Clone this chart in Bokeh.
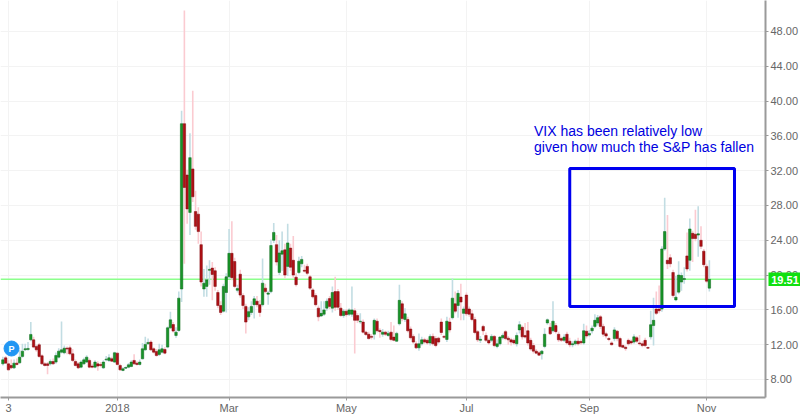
from bokeh.plotting import figure
from bokeh.layouts import row
from bokeh.models import FixedTicker, NumeralTickFormatter, Range1d, Span
from bokeh.core.properties import value
from bokeh.embed import file_html
from bokeh.resources import INLINE

# trading-day number relative to 2 Jan 2018
first_day = -41
opens = [9.8,10.49,9.8,9.61,9.34,9.88,9.92,10.65,11.41,11.45,
 12.56,12.56,11.8,11.99,10.72,9.8,9.8,9.8,10.07,10.0,
 10.57,11.14,11.07,11.6,11.64,10.95,10.07,9.8,9.42,9.8,
 10.0,10.19,9.54,9.42,9.8,9.73,9.34,10.26,10.19,10.38,
 10.0,11.03,9.61,9.04,9.3,9.42,9.5,10.19,9.88,9.73,
 10.38,11.41,12.1,12.3,11.53,11.22,10.88,11.14,11.45,11.72,
 13.94,14.32,13.06,13.63,18.4,37.4,31.5,27.2,32.2,27.3,
 27,23.5,18.4,18.7,20.55,20.8,20.5,18,16.5,15.85,
 18,19.8,22.5,21.56,18.25,20.1,17.65,16.4,15.2,15.7,
 16.6,17,16.6,16.6,18.5,17.8,18.1,24,23.5,20.3,
 22.4,22.9,21,23.1,21.7,19.76,20.3,21.3,20.55,21,
 19.8,18.3,17.65,16.2,15.3,15.5,16.2,17.3,16.2,18.1,
 18.1,16.2,15.35,15.85,15.5,15.5,15.9,15.35,14.63,14.6,
 13.44,13.2,12.95,13.2,14.7,13.64,13.2,13.44,13.06,13.44,
 12.87,12.4,14.4,16.7,14.9,14.9,13.8,12.95,12.1,11.64,
 12.1,12.56,12.5,12.2,12.95,12.7,12.75,14.6,12.95,12.6,
 14.6,15.1,16.7,16.5,17.47,15.6,17.7,16.1,15.55,14.9,
 13.5,12.5,14.1,13.06,12.5,12.5,12.95,11.8,12.1,12.8,
 13.5,12.75,12.56,12.5,12.1,13.7,14,13.06,13.6,12.5,
 11.9,11.26,11.07,10.95,11.8,14.5,14,13.6,14.2,13.2,
 12.7,12.5,13.2,12.4,12.0,12.1,12.4,12.37,12.2,13.55,
 13.1,13.6,14.1,14.5,15.2,14.1,13.25,12.7,12.2,12.7,
 13.55,12.7,11.9,11.7,12.5,12.4,12.3,12.8,12.2,12.1,
 12.5,11.67,12.9,14.2,16.1,16.1,16.1,23,21.7,22,
 20.3,17.15,18.04,19.2,19.5,22.2,21.7,24.8,24.7,24.6,24,22.75,21,18.5]
closes = [10.26,9.88,9.11,9.34,9.88,9.73,10.57,11.26,11.53,11.57,
 13.18,11.72,11.41,10.65,9.8,9.61,9.61,10.07,9.8,10.76,
 11.26,11.41,11.6,11.5,10.95,10.19,9.61,9.34,10.0,10.26,
 10.57,9.42,9.42,10.0,9.54,9.61,10.0,10.34,10.49,10.11,
 11.07,9.73,9.11,9.23,9.38,9.69,10.0,9.8,9.73,10.0,
 11.53,12.03,12.26,11.41,11.14,10.76,11.41,11.53,11.03,13.94,
 14.86,13.56,13.44,17.35,37.4,30.07,27.6,33.5,29.0,25.6,
 25,19.2,19.07,19.45,20.65,20.07,18.7,16.5,15.7,18.7,
 19.8,22.5,19.7,18.7,18.45,17.7,16.5,14.6,15.8,16.4,
 17.27,16.6,15.7,19.07,18.1,17.95,23.4,24.9,21.5,22.55,
 22.8,20,23.7,20.9,20,18.9,21.6,21.8,20.45,20.2,
 18.5,17.5,16.6,15.2,15.6,16,17,16.4,18,16.3,
 16.3,15.35,15.85,15.45,16,16,14.8,14.8,14.7,13.44,
 13.17,12.7,12.85,14.8,13.6,13.5,13.44,13.2,13.3,12.6,
 12.5,13.3,17.1,15,15.55,13.6,12.8,12.3,11.64,12.1,
 12.56,12.3,12.2,12.95,12.1,11.9,12.3,13.4,12.85,14.7,
 13.7,17.35,15.85,17.9,16.9,16.1,15.55,15.5,14.9,13.4,
 12.56,12.62,13.6,12.5,12.2,12.95,11.9,12.1,12.87,13.06,
 12.7,12.56,12.3,12.2,13.06,14.3,12.9,12.87,12.2,11.5,
 11.26,11.03,10.8,11.26,13.2,14.86,13.25,14.7,13.5,12.56,
 12.5,12.87,12.2,12.0,12.1,12.4,12.1,12.22,13.6,13,
 13.3,13.9,14.8,15.1,14.1,13.2,13,12.6,12,13.7,
 12.7,11.8,11.7,11.55,12.1,12.2,12.9,12.4,12.1,11.9,
 11.9,11.6,14.3,14.8,15.6,15.9,23,25,21.3,21.3,
 17.65,17.46,20,19.95,19.6,20.7,25.3,24.2,24.2,24.75,23.3,21.2,19.3,19.51]
highs = [10.6,10.7,10.2,10.3,10.3,10.4,11.4,12.1,12.1,12.3,
 14.6,12.9,12.0,12.2,10.9,10.0,10.0,10.3,10.4,11.1,
 11.6,14.67,11.9,11.8,11.9,11.5,10.3,10.0,10.2,10.5,
 10.8,10.4,9.8,10.2,10.1,10.0,10.2,10.7,10.9,10.6,
 11.2,11.1,9.8,9.4,9.5,9.9,10.2,10.9,10.1,10.3,
 12.2,12.9,12.7,12.5,11.7,11.5,12.1,12.0,11.7,14.1,
 15.8,14.6,14.0,18.1,38.9,50.4,32.1,36.3,41.2,29.7,
 27.8,25.0,20.7,21.1,21.7,21.5,20.9,18.3,17,19,
 20.2,25.3,26.2,22,18.9,20.6,17.9,16.7,16.3,17,
 17.6,17.6,17.1,21.9,19,18.2,24.1,26,24.6,24,
 25,23.6,25.9,23.6,24.5,20.2,22.1,22.2,21.2,21.3,
 20,18.5,17.9,16.5,17,17,17.3,17.6,18.7,19.8,
 18.4,16.8,16.1,16.1,16.2,18.7,16.2,15.6,15.6,14.9,
 13.6,13.5,13.2,15,15,13.9,13.8,13.6,13.6,14.6,
 14.2,13.5,18.9,17,16.2,15.2,14.1,13.2,12.4,13.3,
 12.9,12.8,12.7,13.2,13.3,13,12.9,15,13.1,15.2,
 15.1,19.6,18.1,18.3,19,16.4,18,16.4,16,15.2,
 13.7,13,14.3,13.4,12.7,13.2,13.1,12.6,13,13.3,
 13.7,13,12.8,12.7,13.4,14.7,14.2,14.5,14.6,12.8,
 12.2,11.5,11.3,11.4,13.9,15,14.5,17,14.5,13.5,
 12.9,13.2,13.5,12.8,12.4,12.6,12.8,12.6,14.4,14.2,
 13.7,14.2,15.5,15.4,15.4,14.4,13.5,12.9,12.4,14,
 13.7,12.9,12.1,11.9,12.7,12.6,13.2,13,13.1,12.4,
 12.8,11.8,15.9,17.4,18.1,18.8,23.3,28.9,26.9,22.4,
 20.6,19.9,21.6,20.3,20.9,24.9,26.5,25.1,27.5,27.9,25.6,23,21.3,21.7]
lows = [9.6,9.8,9.0,9.2,9.2,9.6,9.8,10.5,11.3,11.3,
 12.4,11.6,11.2,10.5,9.7,9.5,8.6,9.6,9.7,9.8,
 10.4,11.0,10.9,10.9,10.8,10.0,9.5,9.2,9.3,9.7,
 9.9,9.3,9.3,9.3,9.0,9.4,9.2,10.1,10.0,10.0,
 9.9,9.6,9.0,8.95,9.2,9.3,9.4,9.7,9.6,9.6,
 10.3,11.3,12.0,11.3,11.0,10.6,10.7,11.0,10.9,11.6,
 13.8,13.4,12.8,13.5,16.9,21.3,25.9,24.6,28.4,25.2,
 23.6,18.7,17.5,17.5,18.9,17.1,18.2,16.2,15.4,15.7,
 15.7,19.6,19.4,18.5,18,17.4,16.1,13.3,14.8,15.4,
 15,16.3,15.2,16.4,17.9,16.6,17.9,23.7,21.1,20,
 20.5,19.6,19.9,20.5,19.7,18.7,20.1,20.9,20.3,20,
 18.3,17.3,16.4,14.7,15.2,15.3,15.9,16.1,15.7,15.9,
 16,15.2,15.1,15.2,15.3,15.2,11,14.5,14.4,13.3,
 13,12.6,12.6,12.6,13.4,12.8,12.9,13,12.9,12.4,
 12.4,12.3,14.2,14.7,14.6,13.4,12.6,12.1,11.5,11.3,
 11.9,12.1,12,11.9,11.9,11.7,12.1,13.1,12.7,12.3,
 13.4,14.9,15.6,15.1,14.8,14.8,15.3,15.2,14.7,13.2,
 12.3,12.2,13.1,12.3,12,12.3,11.7,11.6,11.9,12.6,
 12.5,12,11.9,12,11.8,13.3,12.6,12.7,11.9,11.3,
 11,10.9,10.7,10.3,11.6,14.3,13.1,13.4,13.3,12.3,
 12.3,12.3,12,11.7,11.7,11.9,11.9,12,12,12.7,
 12.9,13.3,13.9,14.2,13.8,12.9,12.7,12.4,11.9,12.4,
 12.4,11.6,11.6,11.3,11.9,12,12.1,12.2,11.9,11.7,
 11.7,11.5,12.6,11.9,15.4,15.6,15.8,22.8,20.7,20.9,
 17.4,17,17.8,18.2,19,20.4,20.5,21.5,23.9,22.1,23,20.9,19.1,18.1]

price_ticks = [8, 12, 16, 20, 24, 28, 32, 36, 40, 44, 48]
date_ticks = [-39, 0, 40, 82, 125, 169, 211]
date_labels = ["3", "2018", "Mar", "May", "Jul", "Sep", "Nov"]
last_price = 19.51
note_lines = ["VIX has been relatively low", "given how much the S&P has fallen"]
box_days = (162, 221)
box_prices = (16.39, 32.25)

FONT = "Liberation Sans"
days = [first_day + i for i in range(len(opens))]
up = [c >= o for o, c in zip(opens, closes)]
body_colors = ["#189428" if u else "#b01015" for u in up]
edge_colors = ["#0d661a" if u else "#7a0b0e" for u in up]
wick_colors = ["#c2dde3" if u else "#fbcbd1" for u in up]
tops = [max(o, c) for o, c in zip(opens, closes)]
bottoms = [min(o, c) for o, c in zip(opens, closes)]

p = figure(frame_width=766, frame_height=397, output_backend="svg", toolbar_location=None,
           x_range=Range1d(-41.85, 232.1), y_range=Range1d(5.93, 51.56),
           y_axis_location="right", min_border=0, min_border_left=0,
           min_border_right=0, min_border_top=0, min_border_bottom=0,
           background_fill_color="white", outline_line_color=None,
           margin=(0, 0, 0, 0))

p.xaxis.ticker = FixedTicker(ticks=date_ticks)
p.xaxis.major_label_overrides = {d: t for d, t in zip(date_ticks, date_labels)}
p.yaxis.ticker = FixedTicker(ticks=price_ticks)
p.yaxis.formatter = NumeralTickFormatter(format="0.00")
for ax in (p.xaxis[0], p.yaxis[0]):
    ax.axis_line_color = "#9a9a9a"
    ax.axis_line_width = 2
    ax.major_tick_line_color = "#9a9a9a"
    ax.major_tick_out = 3
    ax.major_tick_in = 0
    ax.minor_tick_out = 0
    ax.minor_tick_in = 0
    ax.major_label_text_font = FONT
    ax.major_label_text_font_size = "11px"
    ax.major_label_text_color = "#666666"
    ax.major_label_standoff = 2
p.xaxis[0].major_label_standoff = 1
p.xgrid.grid_line_color = "#f3f3f3"
p.ygrid.grid_line_color = "#f3f3f3"

p.add_layout(Span(location=last_price, dimension="width", line_color="#8cff8c", line_width=1.5, level="underlay"))
p.segment(days, highs, days, lows, line_color=wick_colors, line_width=1.6)
p.vbar(days, width=0.88, top=tops, bottom=bottoms, fill_color=body_colors, line_color=edge_colors, line_width=0.5)

p.quad(left=[box_days[0]], right=[box_days[1]], bottom=[box_prices[0]], top=[box_prices[1]],
       fill_color=None, line_color="#0000f0", line_width=3)
p.text([149.2, 149.2], [36.6, 34.67], text=note_lines, text_font=value(FONT), text_font_size="14px",
       text_color="#0000e0", text_baseline="middle", text_align="left")

p.scatter([-37.9], [11.56], size=15, marker="circle", fill_color="#2196f3", line_color="#2196f3")
p.text([-37.9], [11.56], text=["P"], text_font=value(FONT), text_font_size="9px", text_font_style="bold",
       text_color="white", text_align="center", text_baseline="middle")

# last-price tag: a small figure laid over the price axis
tag = figure(frame_width=32, frame_height=14, output_backend="svg", toolbar_location=None,
             x_range=Range1d(0, 1), y_range=Range1d(0, 1),
             x_axis_location=None, y_axis_location=None, min_border=0, min_border_left=0,
             min_border_right=0, min_border_top=0, min_border_bottom=0,
             background_fill_color="#10e010", border_fill_color="#10e010", outline_line_color=None,
             margin=(272, 0, 0, -33))
tag.grid.visible = False
tag.text([0.5], [0.5], text=[f"{last_price:.2f}"], text_font=value(FONT), text_font_size="11px",
         text_font_style="bold", text_color="white", text_align="center", text_baseline="middle")

layout = row(p, tag, spacing=0, margin=(0, 0, 0, 0))
open("out.html", "w").write(file_html(layout, INLINE))
